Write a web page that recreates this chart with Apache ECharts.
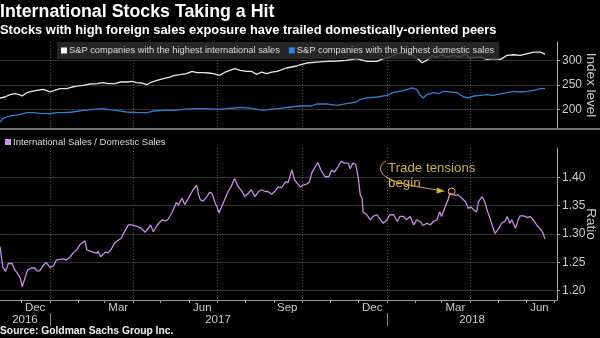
<!DOCTYPE html>
<html><head><meta charset="utf-8">
<script src="https://cdn.jsdelivr.net/npm/echarts@6/dist/echarts.min.js"></script>
<style>html,body{margin:0;padding:0;background:#000;}#c{width:600px;height:338px;}</style>
</head><body><div id="c"></div>
<script>
// ---------- DATA ----------
const intlName = 'S&P companies with the highest international sales';
const domName = 'S&P companies with the highest domestic sales';
const ratioName = 'International Sales / Domestic Sales';

const intlDates = ['2016-11-08','2016-11-13','2016-11-19','2016-11-24','2016-11-29','2016-12-02','2016-12-07','2016-12-12','2016-12-18','2016-12-25','2016-12-28','2017-01-01','2017-01-06','2017-01-12','2017-01-19','2017-01-25','2017-01-30','2017-02-06','2017-02-13','2017-02-21','2017-02-28','2017-03-05','2017-03-12','2017-03-18','2017-03-25','2017-03-31','2017-04-05','2017-04-10','2017-04-16','2017-04-21','2017-04-27','2017-05-04','2017-05-11','2017-05-16','2017-05-22','2017-05-29','2017-06-04','2017-06-09','2017-06-16','2017-06-22','2017-06-27','2017-07-04','2017-07-10','2017-07-15','2017-07-20','2017-07-26','2017-08-02','2017-08-07','2017-08-13','2017-08-18','2017-08-24','2017-08-29','2017-09-04','2017-09-07','2017-09-14','2017-09-25','2017-10-06','2017-10-17','2017-10-28','2017-11-08','2017-11-18','2017-11-29','2017-12-10','2017-12-21','2017-12-28','2018-01-04','2018-01-12','2018-01-19','2018-01-26','2018-01-31','2018-02-04','2018-02-08','2018-02-10','2018-02-13','2018-02-19','2018-02-24','2018-03-01','2018-03-07','2018-03-14','2018-03-21','2018-03-27','2018-04-01','2018-04-06','2018-04-12','2018-04-19','2018-04-26','2018-05-04','2018-05-11','2018-05-18','2018-05-25','2018-06-02','2018-06-09','2018-06-16','2018-06-21'];
const intlValues = [223.0,225.1,229.8,231.8,229.8,227.1,233.9,236.7,238.8,240.8,238.8,235.3,238.8,242.0,242.0,245.5,247.5,249.0,251.6,252.3,254.3,252.3,252.3,255.7,255.7,257.1,254.3,253.7,250.2,255.7,259.2,262.5,265.9,269.4,270.6,272.7,277.6,274.7,274.7,274.1,272.7,269.4,276.1,279.6,282.9,279.6,277.6,277.6,271.4,276.1,272.7,276.1,277.6,279.6,284.3,288.4,294.5,296.5,298.0,298.6,300.0,303.3,298.0,298.0,303.3,306.7,313.5,315.5,313.5,306.7,302.0,295.1,293.1,300.0,310.2,306.7,311.4,306.7,310.2,306.7,313.5,303.3,306.7,306.7,302.0,303.3,302.0,310.2,311.4,310.2,313.5,316.9,316.9,312.5];

const domDates = ['2016-11-08','2016-11-11','2016-11-15','2016-11-22','2016-11-29','2016-12-07','2016-12-14','2016-12-21','2017-01-01','2017-01-08','2017-01-15','2017-01-26','2017-02-06','2017-02-17','2017-02-28','2017-03-07','2017-03-14','2017-03-25','2017-04-05','2017-04-16','2017-04-23','2017-05-04','2017-05-15','2017-05-25','2017-06-05','2017-06-20','2017-07-01','2017-07-11','2017-07-19','2017-07-29','2017-08-09','2017-08-20','2017-08-27','2017-09-07','2017-09-18','2017-09-29','2017-10-10','2017-10-17','2017-10-28','2017-11-08','2017-11-18','2017-11-29','2017-12-03','2017-12-10','2017-12-21','2018-01-01','2018-01-08','2018-01-19','2018-01-28','2018-02-02','2018-02-06','2018-02-09','2018-02-13','2018-02-20','2018-02-26','2018-03-03','2018-03-10','2018-03-18','2018-03-25','2018-03-30','2018-04-05','2018-04-12','2018-04-19','2018-04-26','2018-05-04','2018-05-11','2018-05-18','2018-05-25','2018-06-02','2018-06-09','2018-06-16','2018-06-21'];
const domValues = [174.1,180.8,184.3,187.7,189.0,193.1,193.1,191.8,191.0,193.1,193.1,194.5,197.9,200.0,201.2,199.2,197.9,194.5,193.1,193.1,196.5,197.9,197.9,200.0,201.2,201.2,200.0,201.2,202.6,204.1,201.2,197.9,200.0,201.9,204.7,206.7,206.7,210.8,210.8,208.2,211.4,214.9,220.4,223.1,225.1,228.6,233.9,238.8,243.5,240.8,228.6,223.1,229.8,233.9,231.8,236.7,235.3,233.9,225.1,223.1,227.1,228.6,229.8,228.6,231.8,233.9,236.7,235.3,236.7,238.8,242.0,242.0];

const ratioDates = ['2016-11-08','2016-11-11','2016-11-14','2016-11-17','2016-11-21','2016-11-24','2016-11-28','2016-11-30','2016-12-02','2016-12-05','2016-12-08','2016-12-12','2016-12-16','2016-12-18','2016-12-21','2016-12-25','2016-12-28','2017-01-01','2017-01-05','2017-01-08','2017-01-10','2017-01-15','2017-01-19','2017-01-23','2017-01-26','2017-01-30','2017-02-03','2017-02-05','2017-02-08','2017-02-10','2017-02-15','2017-02-21','2017-02-22','2017-02-25','2017-03-02','2017-03-05','2017-03-08','2017-03-12','2017-03-16','2017-03-19','2017-03-23','2017-03-27','2017-03-31','2017-04-02','2017-04-06','2017-04-10','2017-04-14','2017-04-18','2017-04-20','2017-04-23','2017-04-27','2017-04-30','2017-05-03','2017-05-06','2017-05-09','2017-05-13','2017-05-18','2017-05-20','2017-05-24','2017-05-27','2017-05-31','2017-06-02','2017-06-05','2017-06-09','2017-06-11','2017-06-13','2017-06-16','2017-06-18','2017-06-20','2017-06-23','2017-06-26','2017-06-29','2017-07-01','2017-07-03','2017-07-06','2017-07-09','2017-07-13','2017-07-16','2017-07-20','2017-07-24','2017-07-28','2017-07-31','2017-08-04','2017-08-07','2017-08-11','2017-08-15','2017-08-18','2017-08-22','2017-08-25','2017-08-29','2017-09-02','2017-09-05','2017-09-09','2017-09-13','2017-09-16','2017-09-20','2017-09-23','2017-09-29','2017-10-02','2017-10-06','2017-10-09','2017-10-12','2017-10-14','2017-10-18','2017-10-22','2017-10-26','2017-10-30','2017-11-02','2017-11-05','2017-11-09','2017-11-12','2017-11-16','2017-11-20','2017-11-22','2017-11-25','2017-11-28','2017-12-01','2017-12-03','2017-12-05','2017-12-06','2017-12-10','2017-12-14','2017-12-17','2017-12-21','2017-12-25','2017-12-28','2018-01-01','2018-01-04','2018-01-08','2018-01-12','2018-01-15','2018-01-19','2018-01-22','2018-01-26','2018-01-30','2018-02-02','2018-02-06','2018-02-09','2018-02-13','2018-02-17','2018-02-20','2018-02-24','2018-02-27','2018-03-01','2018-03-05','2018-03-08','2018-03-10','2018-03-12','2018-03-16','2018-03-19','2018-03-23','2018-03-27','2018-03-30','2018-04-02','2018-04-05','2018-04-08','2018-04-10','2018-04-14','2018-04-17','2018-04-20','2018-04-23','2018-04-26','2018-04-28','2018-05-02','2018-05-05','2018-05-09','2018-05-11','2018-05-14','2018-05-16','2018-05-20','2018-05-23','2018-05-25','2018-05-29','2018-06-02','2018-06-05','2018-06-09','2018-06-12','2018-06-16','2018-06-19','2018-06-21'];
const ratioValues = [1.278,1.242,1.234,1.248,1.248,1.237,1.228,1.222,1.207,1.222,1.237,1.240,1.240,1.235,1.235,1.245,1.250,1.241,1.244,1.254,1.257,1.256,1.254,1.260,1.266,1.272,1.282,1.281,1.288,1.272,1.269,1.266,1.270,1.260,1.268,1.267,1.272,1.284,1.289,1.292,1.305,1.316,1.316,1.319,1.313,1.310,1.303,1.311,1.316,1.304,1.315,1.321,1.325,1.323,1.326,1.337,1.356,1.351,1.363,1.352,1.363,1.362,1.378,1.386,1.369,1.360,1.358,1.356,1.366,1.374,1.370,1.354,1.348,1.337,1.348,1.360,1.375,1.383,1.398,1.383,1.375,1.366,1.372,1.378,1.366,1.375,1.378,1.375,1.375,1.370,1.376,1.383,1.382,1.392,1.391,1.413,1.395,1.383,1.386,1.388,1.392,1.410,1.415,1.426,1.411,1.401,1.401,1.413,1.409,1.419,1.428,1.425,1.425,1.415,1.425,1.423,1.398,1.369,1.363,1.339,1.334,1.325,1.331,1.334,1.325,1.319,1.325,1.334,1.334,1.322,1.331,1.331,1.325,1.331,1.316,1.325,1.322,1.315,1.319,1.316,1.322,1.325,1.339,1.331,1.348,1.360,1.372,1.375,1.368,1.369,1.363,1.357,1.345,1.348,1.342,1.339,1.357,1.366,1.356,1.339,1.325,1.310,1.301,1.310,1.319,1.323,1.331,1.319,1.325,1.310,1.325,1.332,1.332,1.329,1.331,1.323,1.316,1.309,1.301,1.291];

const axisStart = '2016-11-08';
const axisEnd = '2018-07-04';
const monthTickDates = ['2016-12-01','2017-01-01','2017-02-01','2017-03-01','2017-04-01','2017-05-01','2017-06-01','2017-07-01','2017-08-01','2017-09-01','2017-10-01','2017-11-01','2017-12-01','2018-01-01','2018-02-01','2018-03-01','2018-04-01','2018-05-01','2018-06-01','2018-07-01'];
const quarterLineDates = ['2017-01-01','2017-04-01','2017-07-01','2017-10-01','2018-01-01','2018-04-01'];
const monthLabelDates = ['2016-12-16','2017-03-16','2017-06-15','2017-09-15','2017-12-16','2018-03-16','2018-06-15'];
const monthLabelNames = ['Dec','Mar','Jun','Sep','Dec','Mar','Jun'];
const yearSeparatorDates = ['2017-01-01','2018-01-01'];
const yearLabelDates = ['2016-12-05','2017-07-02','2018-04-03'];
const yearLabelNames = ['2016','2017','2018'];
const indexTicks = [200, 250, 300];
const ratioTicks = [1.20, 1.25, 1.30, 1.35, 1.40];
const annotationDate = '2018-03-12';
const annotationText = 'Trade tensions\nbegin';

// ---------- CHART ----------
const ts = s => { const p = s.split('-').map(Number); return Date.UTC(p[0], p[1] - 1, p[2]); };
const pairs = (d, v) => d.map((x, i) => [ts(x), v[i]]);
const SANS = '"Liberation Sans", Arial, sans-serif';
const GOLD = '#d4b13c';
const xMin = ts(axisStart), xMax = ts(axisEnd);
const mLab = monthLabelDates.map(ts), yLab = yearLabelDates.map(ts);
const near = (arr, v) => arr.findIndex(a => Math.abs(a - v) < 3600000);

const chart = echarts.init(document.getElementById('c'), null, {renderer: 'canvas'});
const annIdx = ratioDates.indexOf(annotationDate);
const xBase = {type: 'value', min: xMin, max: xMax, scale: true};

chart.setOption({
  backgroundColor: '#000',
  animation: false,
  title: [
    {text: 'International Stocks Taking a Hit', left: 0, top: 3, padding: 0,
     textStyle: {color: '#fff', fontSize: 17.8, fontWeight: 'bold', fontFamily: SANS}},
    {text: 'Stocks with high foreign sales exposure have trailed domestically-oriented peers', left: 0, top: 24, padding: 0,
     textStyle: {color: '#fff', fontSize: 12.9, fontWeight: 'bold', fontFamily: SANS}},
    {text: 'Source: Goldman Sachs Group Inc.', left: 0, top: 326, padding: 0,
     textStyle: {color: '#eee', fontSize: 10.3, fontWeight: 'bold', fontFamily: SANS}}
  ],
  legend: [
    {data: [intlName, domName], left: 57, top: 42, icon: 'rect', itemWidth: 6, itemHeight: 6, itemGap: 9,
     padding: [4, 5, 4, 4], backgroundColor: 'rgba(45,45,45,0.85)',
     textStyle: {color: '#ddd', fontSize: 9.3, fontFamily: SANS, padding: [0, 0, 0, -3]}},
    {data: [ratioName], left: 5, top: 137, icon: 'rect', itemWidth: 6, itemHeight: 6,
     padding: [0, 0, 0, 0],
     textStyle: {color: '#ddd', fontSize: 9.5, fontFamily: SANS, padding: [0, 0, 0, -3]}}
  ],
  grid: [
    {left: 0, right: 43, top: 42, height: 86, outerBoundsMode: 'none'},
    {left: 0, right: 43, top: 148, height: 152, outerBoundsMode: 'none'}
  ],
  xAxis: [
    Object.assign({gridIndex: 0,
     axisLine: {show: false}, axisLabel: {show: false},
     axisTick: {show: false, customValues: quarterLineDates.map(ts)},
     splitLine: {show: true, lineStyle: {color: '#555', type: [1, 2], width: 1}}}, xBase),
    Object.assign({gridIndex: 1, position: 'bottom',
     axisLine: {show: true, onZero: false, lineStyle: {color: '#999', width: 1}},
     axisTick: {show: true, length: 3, customValues: monthTickDates.map(ts), lineStyle: {color: '#999'}},
     axisLabel: {show: true, customValues: mLab, color: '#ccc', fontSize: 11.5, fontFamily: SANS, margin: 2,
       formatter: v => monthLabelNames[near(mLab, v)] || ''},
     splitLine: {show: false}}, xBase),
    Object.assign({gridIndex: 1, position: 'bottom', offset: 13,
     axisLine: {show: false, onZero: false},
     axisTick: {show: true, length: 13, customValues: yearSeparatorDates.map(ts), lineStyle: {color: '#888'}},
     axisLabel: {show: true, customValues: yLab, color: '#ccc', fontSize: 11.5, fontFamily: SANS, margin: 1,
       formatter: v => yearLabelNames[near(yLab, v)] || ''},
     splitLine: {show: false}}, xBase),
    Object.assign({gridIndex: 1, position: 'top',
     axisLine: {show: false, onZero: false}, axisLabel: {show: false},
     axisTick: {show: false, customValues: quarterLineDates.map(ts)},
     splitLine: {show: true, lineStyle: {color: '#555', type: [1, 2], width: 1}}}, xBase)
  ],
  yAxis: [
    {gridIndex: 0, type: 'value', position: 'right', min: 161.8, max: 337.4,
     axisLine: {show: true, onZero: false, lineStyle: {color: '#aaa'}},
     axisTick: {show: true, length: 3, customValues: indexTicks, lineStyle: {color: '#aaa'}},
     axisLabel: {customValues: indexTicks, color: '#ccc', fontSize: 12, fontFamily: SANS, margin: 5},
     splitLine: {show: true, lineStyle: {color: '#333', width: 1}},
     name: 'Index level', nameLocation: 'middle', nameRotate: -90, nameGap: 27, nameMoveOverlap: false,
     nameTextStyle: {color: '#ccc', fontSize: 13.5, fontFamily: SANS}},
    {gridIndex: 1, type: 'value', position: 'right', min: 1.1836, max: 1.4517,
     axisLine: {show: true, onZero: false, lineStyle: {color: '#aaa'}},
     axisTick: {show: true, length: 3, customValues: ratioTicks, lineStyle: {color: '#aaa'}},
     axisLabel: {customValues: ratioTicks, color: '#ccc', fontSize: 12, fontFamily: SANS, margin: 5,
       formatter: v => v.toFixed(2)},
     splitLine: {show: true, lineStyle: {color: '#333', width: 1}},
     name: 'Ratio', nameLocation: 'middle', nameRotate: -90, nameGap: 27, nameMoveOverlap: false,
     nameTextStyle: {color: '#ccc', fontSize: 13.5, fontFamily: SANS}}
  ],
  series: [
    {name: intlName, type: 'line', xAxisIndex: 0, yAxisIndex: 0, data: pairs(intlDates, intlValues),
     showSymbol: false, lineStyle: {color: '#e8e8e8', width: 1.3}, itemStyle: {color: '#ffffff'}, z: 2},
    {name: domName, type: 'line', xAxisIndex: 0, yAxisIndex: 0, data: pairs(domDates, domValues),
     showSymbol: false, lineStyle: {color: '#2b7fd8', width: 1.3}, itemStyle: {color: '#2a86e8'}, z: 2},
    {name: ratioName, type: 'line', xAxisIndex: 1, yAxisIndex: 1, data: pairs(ratioDates, ratioValues),
     showSymbol: false, lineStyle: {color: '#c98ce8', width: 1.3}, itemStyle: {color: '#cc8cf0'}, z: 2,
     markPoint: {silent: true, symbol: 'circle', symbolSize: 7,
       itemStyle: {color: 'rgba(0,0,0,0)', borderColor: GOLD, borderWidth: 1},
       label: {show: false},
       data: [{coord: [ts(annotationDate), ratioValues[annIdx]]}]}}
  ],
  graphic: [
    {type: 'rect', shape: {x: 0, y: 128, width: 600, height: 2}, style: {fill: '#707070'}, z: 10},
    {type: 'text', left: 388, top: 161, z: 10,
     style: {text: annotationText, fill: GOLD, font: '13.3px ' + SANS, lineHeight: 15}},
    {type: 'polyline', z: 10, shape: {points: [[386, 161], [381, 166], [382, 173], [390, 179], [405, 184], [425, 188], [441, 190.5]], smooth: 0.4},
     style: {stroke: GOLD, lineWidth: 1, fill: null}},
    {type: 'polygon', z: 10, shape: {points: [[445, 191.2], [437, 187.5], [436.5, 193.5]]}, style: {fill: GOLD}}
  ]
});
</script>
</body></html>
